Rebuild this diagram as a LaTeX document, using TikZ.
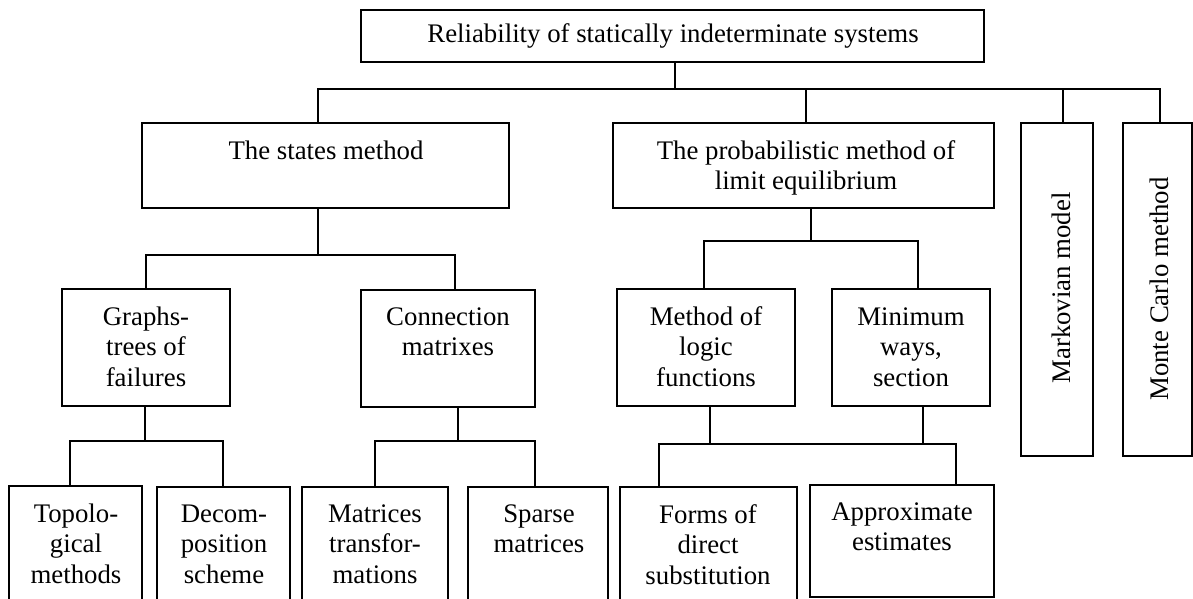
\documentclass[tikz,border=0pt]{standalone}
\usepackage{fontspec}
\setmainfont{Liberation Serif}
\begin{document}
\begin{tikzpicture}[x=1pt,y=-1pt,
  box/.style={draw, line width=1.2pt, inner sep=0pt, outer sep=0pt, anchor=north west},
  txt/.style={inner sep=0pt, align=center, font=\fontsize{26.8}{30.5}\selectfont},
  conn/.style={line width=1.2pt}]
\useasboundingbox[fill=white] (0,0) rectangle (1193,599);
% boxes
\node[box, minimum width=623pt, minimum height=52pt] (top) at (361,10) {};
\node[box, minimum width=367pt, minimum height=85pt] (states) at (142,123) {};
\node[box, minimum width=381pt, minimum height=85pt] (prob) at (613,123) {};
\node[box, minimum width=72pt, minimum height=333pt] (mk) at (1021,123) {};
\node[box, minimum width=69pt, minimum height=333pt] (mc) at (1123,123) {};
\node[box, minimum width=168pt, minimum height=117pt] (graphs) at (62,289) {};
\node[box, minimum width=174pt, minimum height=117pt] (conn) at (361,290) {};
\node[box, minimum width=178pt, minimum height=117pt] (method) at (617,289) {};
\node[box, minimum width=158pt, minimum height=117pt] (minimum) at (832,289) {};
\node[box, minimum width=133pt, minimum height=120pt] (topo) at (9,486) {};
\node[box, minimum width=133pt, minimum height=120pt] (decom) at (157,487) {};
\node[box, minimum width=146pt, minimum height=120pt] (matr) at (302,487) {};
\node[box, minimum width=140pt, minimum height=120pt] (sparse) at (468,487) {};
\node[box, minimum width=177pt, minimum height=120pt] (forms) at (620,487) {};
\node[box, minimum width=184pt, minimum height=112pt] (approx) at (810,485) {};
% texts (anchor=base is the baseline of the last line)
\node[txt, anchor=base] (top-t) at (673,43) {Reliability of statically indeterminate systems};
\node[txt, anchor=base] (states-t) at (326,159) {The states method};
\node[txt, anchor=base] (prob-t) at (806,189.5) {The probabilistic method of\\limit equilibrium};
\node[txt, rotate=90] (mk-t) at (1061,288) {Markovian model};
\node[txt, rotate=90] (mc-t) at (1159,289) {Monte Carlo method};
\node[txt, anchor=base] (graphs-t) at (146,386) {Graphs-\\trees of\\failures};
\node[txt, anchor=base] (conn-t) at (448,355.5) {Connection\\matrixes};
\node[txt, anchor=base] (method-t) at (706,386) {Method of\\logic\\functions};
\node[txt, anchor=base] (minimum-t) at (911,386) {Minimum\\ways,\\section};
\node[txt, anchor=base] (topo-t) at (76,583) {Topolo-\\gical\\methods};
\node[txt, anchor=base] (decom-t) at (224,583) {Decom-\\position\\scheme};
\node[txt, anchor=base] (matr-t) at (375,583) {Matrices\\transfor-\\mations};
\node[txt, anchor=base] (sparse-t) at (539,552.5) {Sparse\\matrices};
\node[txt, anchor=base] (forms-t) at (708,584) {Forms of\\direct\\substitution};
\node[txt, anchor=base] (approx-t) at (902,550.5) {Approximate\\estimates};
% bus coordinates
\coordinate (bus1) at (675,89);
\coordinate (bus2) at (318,255);
\coordinate (bus3) at (811,241);
\coordinate (bus4) at (145,441);
\coordinate (bus5) at (458,441);
\coordinate (bus6) at (710,444);
% connectors level 1
\draw[conn] ([xshift=2.5pt]top.south) -- (bus1);
\draw[conn] ([xshift=-7.5pt]states.north) |- ([xshift=2.5pt]mc.north |- bus1) -- ([xshift=2.5pt]mc.north);
\draw[conn] ([xshift=2.5pt]prob.north) -- ([xshift=2.5pt]prob.north |- bus1);
\draw[conn] ([xshift=6pt]mk.north) -- ([xshift=6pt]mk.north |- bus1);
% states
\draw[conn] ([xshift=-7.5pt]states.south) -- (bus2);
\draw[conn] (graphs.north) |- ([xshift=7pt]conn.north |- bus2) -- ([xshift=7pt]conn.north);
% prob
\draw[conn] ([xshift=7.5pt]prob.south) -- (bus3);
\draw[conn] ([xshift=-2pt]method.north) |- ([xshift=7pt]minimum.north |- bus3) -- ([xshift=7pt]minimum.north);
% graphs
\draw[conn] ([xshift=-1pt]graphs.south) -- (bus4);
\draw[conn] ([xshift=-5.5pt]topo.north) |- ([xshift=-0.5pt]decom.north |- bus4) -- ([xshift=-0.5pt]decom.north);
% connection
\draw[conn] ([xshift=10pt]conn.south) -- (bus5);
\draw[conn] (matr.north) |- ([xshift=-3pt]sparse.north |- bus5) -- ([xshift=-3pt]sparse.north);
% method / minimum
\draw[conn] ([xshift=4pt]method.south) -- (bus6);
\draw[conn] ([xshift=12pt]minimum.south) -- ([xshift=12pt]minimum.south |- bus6);
\draw[conn] ([xshift=-49.5pt]forms.north) |- ([xshift=54pt]approx.north |- bus6) -- ([xshift=54pt]approx.north);
\end{tikzpicture}
\end{document}
